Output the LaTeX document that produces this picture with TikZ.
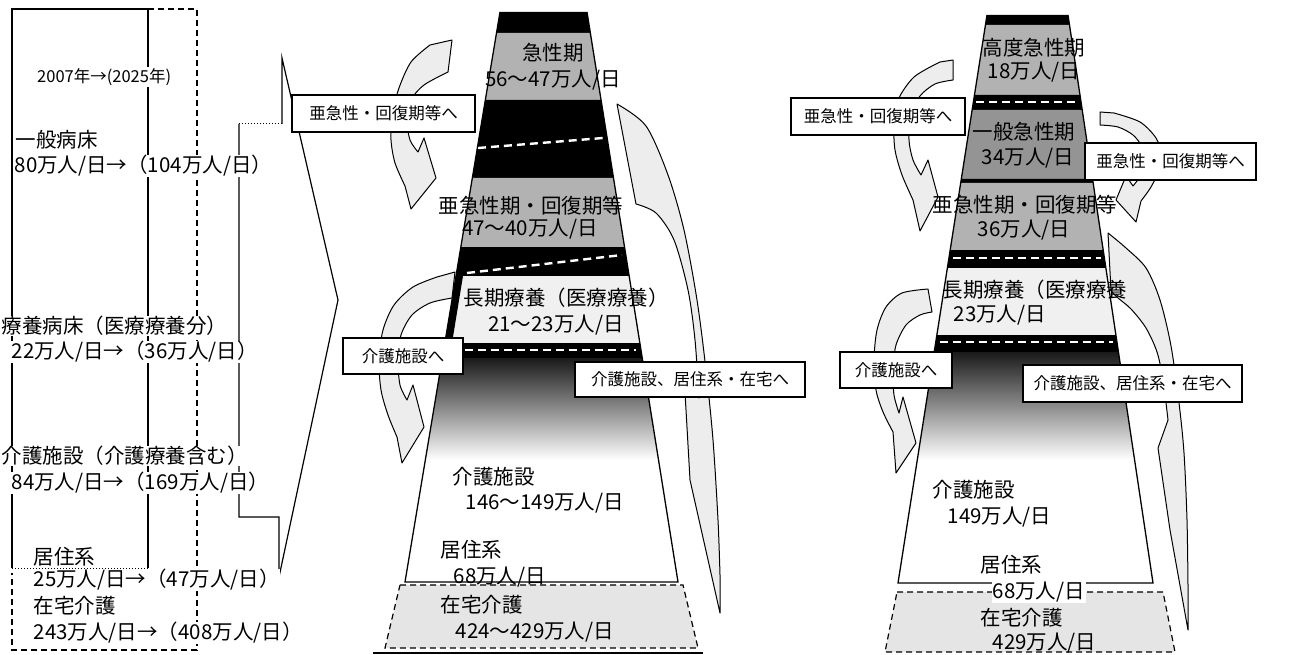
\documentclass[tikz,border=0pt]{standalone}
\usepackage{fontspec}
\setmainfont{Noto Sans CJK JP}
\begin{document}
\begin{tikzpicture}[x=1pt,y=-1pt,
  big/.style={font=\fontsize{20.5}{22}\selectfont, inner sep=0.5pt},
  small/.style={font=\fontsize{16.5}{18}\selectfont, inner sep=1pt},
  callout/.style={draw=black, line width=1.1pt, fill=white, font=\fontsize{16.5}{18}\selectfont, inner sep=0pt},
  halftone/.style={fill=black!30},
  curvearrow/.style={draw=black, line width=1pt, fill=black!7, line join=round},
  whitedash/.style={draw=white, line width=2.4pt, dash pattern=on 8pt off 5pt},
  pyrline/.style={draw=black, line width=1.3pt},
  dashbox/.style={draw=black, line width=1.2pt, dash pattern=on 6pt off 4pt},
  fade/.style={top color=black!90, bottom color=white, middle color=black!45}
]
\useasboundingbox (0,0) rectangle (1300,655);

% ---------------- left panel ----------------
\draw[line width=1.4pt] (12,568) -- (12,9) -- (148,9) -- (148,568);
\draw[line width=1pt, dotted] (12,568) -- (148,568);
\draw[dashbox] (148,9) -- (197,9) -- (197,650) -- (12,650) -- (12,573);
\draw[line width=1pt, dotted] (239,124) -- (282,124);
\draw[line width=1.2pt, line join=miter] (282,124) -- (282,58) -- (338,300) -- (279,577) -- (279,517) -- (239,517) -- (239,124);

\node[small, anchor=west, fill=white] (t2007) at (36,77) {2007年→(2025年)};
\node[big, anchor=west, fill=white] (tg1) at (15,140) {一般病床};
\node[big, anchor=west, fill=white] (tg2) at (14,166) {80万人/日→（104万人/日）};
\node[big, anchor=west, fill=white] (tr1) at (1,326) {療養病床（医療療養分）};
\node[big, anchor=west, fill=white] (tr2) at (11,352) {22万人/日→（36万人/日）};
\node[big, anchor=west, fill=white] (tk1) at (1,456) {介護施設（介護療養含む）};
\node[big, anchor=west, fill=white] (tk2) at (11,483) {84万人/日→（169万人/日）};
\node[big, anchor=west, fill=white] (tj1) at (33,557) {居住系};
\node[big, anchor=west, fill=white] (tj2) at (33,580) {25万人/日→（47万人/日）};
\node[big, anchor=west, fill=white] (tz1) at (33,606) {在宅介護};
\node[big, anchor=west, fill=white] (tz2) at (33,633) {243万人/日→（408万人/日）};

% ---------------- left pyramid ----------------
\fill[black] (500,12) -- (587,12) -- (590.4,33) -- (496.5,33) -- cycle;
\fill[halftone] (496.5,33) -- (590.4,33) -- (601,100) -- (485.3,100) -- cycle;
\fill[black] (485.3,100) -- (601,100) -- (613.5,178) -- (472.3,178) -- cycle;
\draw[whitedash] (478,148) -- (603,138);
\fill[halftone] (472.3,178) -- (613.5,178) -- (624.5,247) -- (460.8,247) -- cycle;
\fill[black] (460.8,247) -- (624.5,247) -- (629.1,276) -- (456,276) -- cycle;
\draw[whitedash] (467,273) -- (622,255);
\fill[black!6] (456,276) -- (629.1,276) -- (639.8,343) -- (444.8,343) -- cycle;
\fill[black] (456,276) -- (463,276) -- (452,343) -- (444.8,343) -- cycle;
\fill[black] (444.8,343) -- (639.8,343) -- (642.2,358) -- (442.3,358) -- cycle;
\draw[whitedash] (452,350) -- (636,350);
\shade[fade] (442.3,358) -- (642.2,358) -- (658.5,460) -- (425.3,460) -- cycle;
\draw[pyrline] (500,12) -- (405,582) -- (678,582) -- (587,12);
\filldraw[dashbox, fill=black!10] (400,585) -- (683,585) -- (698,648) -- (385,648) -- cycle;
\draw[line width=1.2pt] (373,653) -- (703,653);

% ---------------- right pyramid ----------------
\fill[black] (987,15) -- (1068,15) -- (1069.5,25) -- (985.4,25) -- cycle;
\fill[halftone] (985.4,25) -- (1069.5,25) -- (1080,95) -- (974.5,95) -- cycle;
\fill[black] (974.5,95) -- (1080,95) -- (1082.2,110) -- (972.1,110) -- cycle;
\draw[whitedash] (976,102) -- (1079,102);
\fill[black!42] (972.1,110) -- (1082.2,110) -- (1092.5,179) -- (961.3,179) -- cycle;
\fill[black] (961.3,179) -- (1092.5,179) -- (1093.1,183) -- (960.7,183) -- cycle;
\fill[halftone] (960.7,183) -- (1093.1,183) -- (1103.2,250) -- (950.2,250) -- cycle;
\fill[black] (950.2,250) -- (1103.2,250) -- (1105.8,268) -- (947.4,268) -- cycle;
\draw[whitedash] (953,258) -- (1101,258);
\fill[black!6] (947.4,268) -- (1105.8,268) -- (1115.9,335) -- (936.9,335) -- cycle;
\fill[black] (936.9,335) -- (1115.9,335) -- (1118.4,352) -- (934.2,352) -- cycle;
\draw[whitedash] (940,342) -- (1113,342);
\shade[fade] (934.2,352) -- (1118.4,352) -- (1134.6,460) -- (917.3,460) -- cycle;
\draw[pyrline] (987,15) -- (898,583) -- (1153,583) -- (1068,15);
\filldraw[dashbox, fill=black!10] (897,592) -- (1163,592) -- (1175,652) -- (885,652) -- cycle;

% ---------------- curved arrows ----------------
% A
\draw[curvearrow] (452,40) -- (430,45) -- plot[smooth] coordinates {(430,45) (411,62) (399,88) (392,115) (391,140) (395,163) (405,186)} -- (411,209) -- (436,178) -- (424,138) -- (418,152) -- plot[smooth] coordinates {(418,152) (410,140) (407,120) (411,100) (424,85) (448,72)} -- cycle;
% B
\draw[curvearrow] (455,272) -- (437,277) -- plot[smooth] coordinates {(437,277) (413,287) (394,305) (383,330) (379,360) (381,390) (388,415) (397,437)} -- (402,463) -- (424,427) -- (413,385) -- (407,400) -- plot[smooth] coordinates {(407,400) (400,385) (398,360) (401,335) (412,315) (430,303) (452,298)} -- cycle;
% C
\draw[curvearrow] plot[smooth] coordinates {(617,104) (646,126) (668,175) (684,230) (697,300) (706,370) (713,440) (718,520) (720,575)} -- (720,613) -- (690,480) -- (684,375) -- (699,398) -- plot[smooth] coordinates {(699,398) (695,340) (688,290) (674,240) (656,213) (636,204)} -- cycle;
% D
\draw[curvearrow] (953,60) -- (940,62) -- plot[smooth] coordinates {(940,62) (914,77) (898,100) (894,125) (895,150) (902,175) (913,200)} -- (920,231) -- (938,197) -- (928,160) -- (921,175) -- plot[smooth] coordinates {(921,175) (913,160) (909,140) (911,115) (920,96) (935,84) (953,80)} -- cycle;
% E
\draw[curvearrow] (1100,112) -- (1114,113) -- plot[smooth] coordinates {(1114,113) (1140,122) (1156,138) (1161,154) (1159,170) (1151,187) (1141,201)} -- (1136,222) -- (1116,200) -- (1126,176) -- (1133,186) -- plot[smooth] coordinates {(1133,186) (1141,175) (1144,162) (1142,147) (1133,135) (1118,127) (1100,125)} -- cycle;
% F
\draw[curvearrow] (932,312) -- (928,289) -- plot[smooth] coordinates {(928,289) (902,293) (886,307) (877,330) (874,360) (876,390) (883,412) (893,432)} -- (896,473) -- (916,443) -- (903,397) -- (899,413) -- plot[smooth] coordinates {(899,413) (894,395) (893,370) (896,345) (906,325) (920,315) (932,312)} -- cycle;
% G
\draw[curvearrow] plot[smooth] coordinates {(1108,233) (1126,248) (1146,268) (1160,300) (1171,346) (1179,403) (1184,453) (1187,520) (1188,586)} -- (1188,630) -- (1170,530) -- (1158,448) -- (1168,420) -- plot[smooth] coordinates {(1168,420) (1163,380) (1157,352) (1146,328) (1131,309) (1118,298) (1111,291)} -- cycle;

% ---------------- callout boxes ----------------
\node[callout, minimum width=183pt, minimum height=37pt] (bL1) at (383.5,113.5) {亜急性・回復期等へ};
\node[callout, minimum width=120pt, minimum height=36pt] (bL2) at (403,356) {介護施設へ};
\node[callout, minimum width=230pt, minimum height=35pt] (bL3) at (690,379.5) {介護施設、居住系・在宅へ};
\node[callout, minimum width=174pt, minimum height=37pt] (bR1) at (878,116.5) {亜急性・回復期等へ};
\node[callout, minimum width=171pt, minimum height=37pt] (bR2) at (1170.5,161.5) {亜急性・回復期等へ};
\node[callout, minimum width=112pt, minimum height=36pt] (bR3) at (896,370) {介護施設へ};
\node[callout, minimum width=219pt, minimum height=37pt] (bR4) at (1132.5,383.5) {介護施設、居住系・在宅へ};

% ---------------- left pyramid labels ----------------
\node[big] (p1a) at (553,53) {急性期};
\node[big] (p1b) at (553,80) {56〜47万人/日};
\node[big] (p2a) at (531,206) {亜急性期・回復期等};
\node[big] (p2b) at (530,229) {47〜40万人/日};
\node[big] (p3a) at (566,298) {長期療養（医療療養）};
\node[big] (p3b) at (556,325) {21〜23万人/日};
\node[big, anchor=west] (p4a) at (452,477) {介護施設};
\node[big, anchor=west] (p4b) at (465,503) {146〜149万人/日};
\node[big, anchor=west] (p5a) at (440,550) {居住系};
\node[big, anchor=west] (p5b) at (453,577) {68万人/日};
\node[big, anchor=west] (p6a) at (440,605) {在宅介護};
\node[big, anchor=west] (p6b) at (455,632) {424〜429万人/日};

% ---------------- right pyramid labels ----------------
\node[big] (q1a) at (1034,48) {高度急性期};
\node[big] (q1b) at (1034,72) {18万人/日};
\node[big] (q2a) at (1024,132) {一般急性期};
\node[big] (q2b) at (1028,158) {34万人/日};
\node[big] (q3a) at (1025,205) {亜急性期・回復期等};
\node[big] (q3b) at (1024,230) {36万人/日};
\node[big, anchor=west] (q4a) at (942,290) {長期療養（医療療養};
\node[big, anchor=west] (q4b) at (953,315) {23万人/日};
\node[big, anchor=west] (q5a) at (932,490) {介護施設};
\node[big, anchor=west] (q5b) at (947,517) {149万人/日};
\node[big, anchor=west] (q6a) at (980,565) {居住系};
\node[big, anchor=west, fill=white] (q6b) at (992,592) {68万人/日};
\node[big, anchor=west] (q7a) at (980,618) {在宅介護};
\node[big, anchor=west] (q7b) at (992,643) {429万人/日};
\end{tikzpicture}
\end{document}
